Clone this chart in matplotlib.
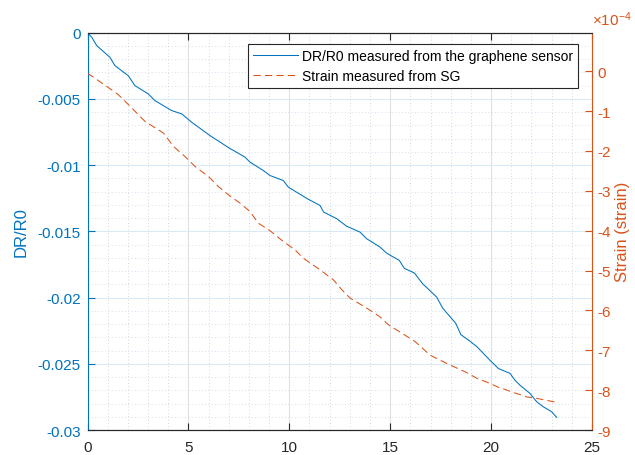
import matplotlib
matplotlib.use("Agg")
import matplotlib.pyplot as plt
from matplotlib.ticker import MultipleLocator, FuncFormatter

plt.rcParams['font.family'] = ['Liberation Sans', 'DejaVu Sans']
plt.rcParams['mathtext.fontset'] = 'custom'
plt.rcParams['mathtext.rm'] = 'Liberation Sans'
plt.rcParams['mathtext.it'] = 'Liberation Sans'
plt.rcParams['axes.unicode_minus'] = False

# DR/R0 of the graphene sensor (left axis)
time_dr = [0.0, 0.21, 0.46, 1.11, 1.36, 2.02, 2.35, 3.01, 3.34, 4.17, 4.67, 5.16,
           6.07, 6.98, 7.80, 8.05, 8.71, 9.04, 9.70, 9.95, 10.9, 11.52, 11.7, 12.35,
           12.84, 13.5, 13.83, 14.49, 14.83, 15.45, 15.7, 16.2, 16.6, 17.3, 17.6,
           18.25, 18.5, 19.0, 19.3, 19.94, 20.36, 20.94, 21.18, 21.43, 21.93, 22.26,
           22.59, 23.0, 23.25]
dr_r0 = [0.0, -0.00036, -0.00099, -0.00187, -0.0025, -0.00326, -0.00401, -0.00463,
         -0.00514, -0.00589, -0.00614, -0.00677, -0.00778, -0.00868, -0.0094, -0.00978,
         -0.01041, -0.01079, -0.01117, -0.01167, -0.01255, -0.01305, -0.01355, -0.01405,
         -0.01462, -0.01506, -0.01556, -0.01619, -0.01666, -0.0172, -0.0178, -0.01815,
         -0.01895, -0.01996, -0.0208, -0.02195, -0.0228, -0.02335, -0.02372, -0.02473,
         -0.02536, -0.02573, -0.02624, -0.02662, -0.02724, -0.02787, -0.02825, -0.02862,
         -0.02905]

# strain from the strain gauge (right axis)
time_sg = [0.0, 0.95, 1.53, 2.11, 2.85, 3.76, 4.25, 4.83, 5.33, 5.99, 6.48, 6.98, 7.56,
           8.05, 8.46, 9.04, 9.70, 10.28, 10.69, 11.52, 12.18, 12.60, 13.01, 13.83,
           14.49, 14.91, 15.57, 16.23, 16.97, 17.80, 18.71, 19.29, 19.94, 20.36, 20.69,
           21.1, 21.43, 21.76, 22.09, 22.5, 22.88, 23.2]
strain = [-0.05e-4, -0.38e-4, -0.59e-4, -0.88e-4, -1.26e-4, -1.55e-4, -1.88e-4, -2.14e-4,
          -2.39e-4, -2.64e-4, -2.89e-4, -3.10e-4, -3.31e-4, -3.52e-4, -3.81e-4, -4.0e-4,
          -4.27e-4, -4.48e-4, -4.69e-4, -4.98e-4, -5.23e-4, -5.48e-4, -5.69e-4, -5.94e-4,
          -6.16e-4, -6.36e-4, -6.57e-4, -6.78e-4, -7.12e-4, -7.33e-4, -7.54e-4, -7.70e-4,
          -7.83e-4, -7.93e-4, -7.98e-4, -8.06e-4, -8.11e-4, -8.17e-4, -8.19e-4, -8.23e-4,
          -8.27e-4, -8.30e-4]

blue = '#0072BD'
orange = '#D95319'
dark = '#262626'

fig = plt.figure(figsize=(6.35, 4.56), dpi=100)
ax = fig.add_axes([0.1378, 0.0548, 0.7945, 0.8717])
ax2 = ax.twinx()

l1, = ax.plot(time_dr, dr_r0, color=blue, lw=0.75)
l2, = ax2.plot(time_sg, strain, color=orange, lw=0.75, dashes=(7, 4))

ax.set_xlim(0, 25)
ax.set_ylim(-0.03, 0)
ax2.set_ylim(-9e-4, 0.97e-4)

ax.xaxis.set_major_locator(MultipleLocator(5))
ax.xaxis.set_minor_locator(MultipleLocator(1))
ax.yaxis.set_major_locator(MultipleLocator(0.005))
ax.yaxis.set_minor_locator(MultipleLocator(0.001))
ax.yaxis.set_major_formatter(FuncFormatter(lambda v, p: '%g' % round(v, 4)))
ax2.yaxis.set_major_locator(MultipleLocator(1e-4))
ax2.yaxis.set_major_formatter(FuncFormatter(lambda v, p: '%g' % round(v * 1e4, 2)))

# grid (major solid, minor dotted) like MATLAB
ax.grid(True, which='major', axis='y', color='#D9EAF5', lw=0.8, ls='-')
ax.grid(True, which='minor', axis='y', color='#BFD6E8', lw=0.6, ls=(0, (1, 3)))
ax.grid(True, which='major', axis='x', color='#E0E0E0', lw=0.8, ls='-')
ax.grid(True, which='minor', axis='x', color='#C8C8C8', lw=0.6, ls=(0, (1, 3)))
ax.set_axisbelow(True)

ax.tick_params(axis='x', which='major', direction='in', length=5, top=True,
               colors=dark, labelsize=11, pad=7)
ax.tick_params(axis='x', which='minor', length=0)
ax.tick_params(axis='y', which='major', direction='in', length=5, colors=blue,
               labelsize=11, pad=5)
ax.tick_params(axis='y', which='minor', length=0)
ax2.tick_params(axis='y', direction='in', length=5, colors=orange, labelsize=11, pad=4)

for a in (ax, ax2):
    a.spines['top'].set_color(dark)
    a.spines['bottom'].set_color(dark)
ax.spines['left'].set_color(blue)
ax.spines['right'].set_visible(False)
ax2.spines['left'].set_visible(False)
ax2.spines['right'].set_color(orange)

ax.set_ylabel('DR/R0', color=blue, fontsize=12, labelpad=6)
ax2.set_ylabel('Strain (strain)', color=orange, fontsize=12, labelpad=3)
ax2.text(1.0, 1.012, r'$\times10^{-4}$', transform=ax2.transAxes, color=orange,
         fontsize=11, ha='left', va='bottom')

leg = ax2.legend([l1, l2], ['DR/R0 measured from the graphene sensor', 'Strain measured from SG'],
                 loc='upper right', bbox_to_anchor=(0.972, 0.971), borderaxespad=0,
                 fontsize=10, fancybox=False, framealpha=1, edgecolor=dark,
                 handlelength=3.2, handletextpad=0.3, labelspacing=0.45, borderpad=0.35)
leg.get_frame().set_linewidth(0.8)

fig.savefig('out.png', dpi=100)
